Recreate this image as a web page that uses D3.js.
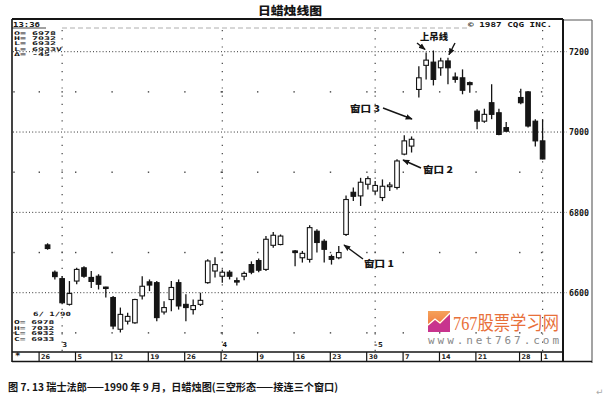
<!DOCTYPE html>
<html><head><meta charset="utf-8">
<script src="https://cdn.jsdelivr.net/npm/d3@7"></script>
<style>body{margin:0;background:#fff}svg{display:block}</style>
</head><body>
<svg id="c" width="610" height="406"></svg>
<script>
// ---- data (1990, Swiss franc, daily) ----
const dates = ["02-27","02-28","03-01","03-02",
 "03-05","03-06","03-07","03-08","03-09",
 "03-12","03-13","03-14","03-15","03-16",
 "03-19","03-20","03-21","03-22","03-23",
 "03-26","03-27","03-28","03-29","03-30",
 "04-02","04-03","04-04","04-05","04-06",
 "04-09","04-10","04-11","04-12",
 "04-16","04-17","04-18","04-19","04-20",
 "04-23","04-24","04-25","04-26","04-27",
 "04-30","05-01","05-02","05-03","05-04",
 "05-07","05-08","05-09","05-10","05-11",
 "05-14","05-15","05-16","05-17","05-18",
 "05-21","05-22","05-23","05-24","05-25",
 "05-29","05-30","05-31","06-01"];
const open  = [6719,6651,6635,6571, 6629,6662,6638,6641,6614, 6588,6509,6529,6525,6592, 6627,6625,6552,6583,6625, 6571,6558,6571,6625,6654, 6641,6651,6630,6641,6670, 6680,6658,6718,6720, 6704,6687,6683,6753,6728, 6690,6687,6745,6850,6841, 6870,6853,6837,6864,6862, 6945,6965,7106,7166,7174, 7160,7177,7137,7135,7123, 7052,7027,7073,7048,7011, 7086,7100,7027,6978];
const high  = [6723,6655,6641,6629, 6662,6666,6654,6646,6615, 6592,6563,6550,6585,6641, 6633,6629,6579,6629,6633, 6596,6583,6600,6683,6688, 6658,6656,6638,6653,6678, 6685,6741,6751,6745, 6706,6704,6768,6758,6733, 6695,6716,6842,6862,6886, 6890,6878,6882,6875,6932, 6992,6989,7164,7198,7203, 7185,7185,7148,7156,7126, 7057,7058,7119,7058,7025, 7108,7102,7032,7032];
const low   = [6707,6633,6571,6568, 6621,6637,6612,6608,6588, 6509,6501,6521,6523,6583, 6604,6529,6546,6554,6558, 6529,6546,6567,6622,6638, 6625,6633,6618,6631,6646, 6651,6654,6712,6718, 6666,6675,6675,6700,6675, 6670,6683,6741,6828,6816, 6857,6845,6828,6853,6857, 6942,6949,7086,7131,7116, 7140,7119,7123,7094,7098, 7007,7023,7032,6992,7001, 7069,7011,6964,6932];
const close = [6710,6640,6575,6598, 6658,6641,6628,6621,6611, 6517,6546,6541,6583,6616, 6619,6538,6563,6613,6567, 6563,6568,6581,6679,6670, 6651,6641,6627,6648,6651, 6656,6733,6743,6741, 6700,6698,6762,6725,6708, 6683,6700,6832,6840,6875, 6884,6867,6865,6868,6928, 6978,6982,7135,7179,7131, 7177,7160,7131,7104,7118, 7027,7044,7044,6994,7002, 7073,7015,6978,6933];

const yTicks = [6600, 6800, 7000, 7200];
const yMinor = [6500, 6700, 6900, 7100];
const weekLabels = ["26","5","12","19","26","2","9","16","23","30","7","14","21","28","1"];
const weekDates  = ["02-26","03-05","03-12","03-19","03-26","04-02","04-09","04-16","04-23","04-30","05-07","05-14","05-21","05-29","06-01"];
const monthLabels = ["3","4","-5"];
const monthDates  = ["03-01","04-02","05-01"];
const monthLines  = ["03-01","04-02","05-01","06-01"];
const legendTop = ["O= 6978","H= 7032","L= 6932","L= 6933V","\u0394= -45"];
const legendBottom = ["O= 6978","H= 7032","L= 6932","C= 6933"];

// ---- helpers ----
const start = new Date(1990,1,26);
function slot(s){
  const [m,d] = s.split("-").map(Number);
  const dt = new Date(1990, m-1, d);
  return d3.timeMonday.count(start, dt)*5 + (dt.getDay()-1);
}
const candles = dates.map((d,i)=>({s:slot(d),o:open[i],h:high[i],l:low[i],c:close[i]}));

const L = 12, R = 563, T = 19, B = 351, RR = 592;
const x = d3.scaleLinear().domain([0,69]).range([40.3,542.6]);
const y = d3.scaleLinear().domain([6600,7200]).range([292.7,51.7]);

const svg = d3.select("#c");
const ink = "#151515";
const mono = "'DejaVu Sans Mono', 'Liberation Mono', monospace";
const cjk = "'Noto Sans CJK SC', sans-serif";

const defs = svg.append("defs");
defs.append("marker").attr("id","ah").attr("viewBox","0 0 10 10").attr("refX",9).attr("refY",5)
  .attr("markerWidth",5).attr("markerHeight",5).attr("orient","auto-start-reverse")
  .append("path").attr("d","M0,1 L10,5 L0,9 Z").attr("fill",ink);

function sText(g, tx, ty, str, size, sy, opts={}){
  const t = g.append("text").attr("transform",`translate(${tx},${ty}) scale(1,${sy})`)
    .attr("font-family", opts.family||mono).attr("font-size",size)
    .attr("font-weight", opts.weight||"bold").attr("fill", opts.fill||ink)
    .attr("text-anchor", opts.anchor||"start").text(str);
  if (opts.len) t.attr("textLength",opts.len).attr("lengthAdjust","spacingAndGlyphs");
  return t;
}

// ---- title ----
svg.append("text").attr("x",290).attr("y",15).attr("text-anchor","middle")
  .attr("font-family",cjk).attr("font-weight","900").attr("font-size",11).attr("fill",ink)
  .attr("textLength",64).attr("lengthAdjust","spacingAndGlyphs").text("日蜡烛线图");

// ---- frame ----
const fr = svg.append("g");
fr.append("line").attr("x1",L).attr("x2",R).attr("y1",T).attr("y2",T).attr("stroke",ink).attr("stroke-width",2);
fr.append("line").attr("x1",R).attr("x2",RR).attr("y1",T+1).attr("y2",T+1).attr("stroke","#555").attr("stroke-width",1);
fr.append("line").attr("x1",L).attr("x2",L).attr("y1",T).attr("y2",362).attr("stroke",ink).attr("stroke-width",1.6);
fr.append("line").attr("x1",R).attr("x2",R).attr("y1",T).attr("y2",362).attr("stroke",ink).attr("stroke-width",2);
fr.append("line").attr("x1",RR).attr("x2",RR).attr("y1",T+1).attr("y2",363).attr("stroke","#666").attr("stroke-width",1.2);
fr.append("line").attr("x1",L).attr("x2",R).attr("y1",352).attr("y2",352).attr("stroke",ink).attr("stroke-width",1.4);
fr.append("line").attr("x1",L).attr("x2",RR).attr("y1",361.5).attr("y2",361.5).attr("stroke",ink).attr("stroke-width",1.4);
fr.append("line").attr("x1",L).attr("x2",46).attr("y1",28).attr("y2",28).attr("stroke",ink).attr("stroke-width",0.8);
fr.append("line").attr("x1",62).attr("x2",470).attr("y1",28).attr("y2",28).attr("stroke","#999").attr("stroke-width",0.8).attr("stroke-dasharray","5 3");

// ---- grid ----
const grid = svg.append("g");
grid.selectAll(".hg").data(yTicks).join("line")
  .attr("x1",L+1).attr("x2",R+4).attr("y1",d=>y(d)).attr("y2",d=>y(d))
  .attr("stroke","#333").attr("stroke-width",1).attr("stroke-dasharray","1 2.2");
const dotX = [L+2].concat(weekDates.map(d=>x(slot(d))-1)).concat(monthDates.map(d=>x(slot(d))));
const minorPts = [];
yMinor.forEach(v=>dotX.forEach(px=>minorPts.push([px,y(v)])));
grid.selectAll(".md").data(minorPts).join("rect")
  .attr("x",d=>d[0]-0.7).attr("y",d=>d[1]-0.7).attr("width",1.4).attr("height",1.4).attr("fill","#444");
grid.selectAll(".vg").data(monthLines).join("line")
  .attr("x1",d=>x(slot(d))).attr("x2",d=>x(slot(d))).attr("y1",30).attr("y2",B)
  .attr("stroke","#444").attr("stroke-width",1.2).attr("stroke-dasharray","1.2 7");

// ---- candles ----
const cg = svg.append("g");
const bw = 4.6;
cg.selectAll(".wk").data(candles).join("line")
  .attr("x1",d=>x(d.s)).attr("x2",d=>x(d.s)).attr("y1",d=>y(d.h)).attr("y2",d=>y(d.l))
  .attr("stroke",ink).attr("stroke-width",1.3);
cg.selectAll(".bd").data(candles).join("rect")
  .attr("x",d=>x(d.s)-bw/2).attr("width",bw)
  .attr("y",d=>Math.min(y(d.o),y(d.c)))
  .attr("height",d=>Math.max(1.4,Math.abs(y(d.o)-y(d.c))))
  .attr("fill",d=>d.c>=d.o?"#fff":ink).attr("stroke",ink).attr("stroke-width",1.1);

// ---- right axis ----
const ra = svg.append("g").attr("transform",`translate(${R+6},0)`)
  .call(d3.axisRight(y).tickValues(yTicks).tickFormat(d3.format("d")).tickSize(0).tickPadding(0));
ra.select(".domain").remove();
ra.selectAll("text").attr("font-family",mono).attr("font-size",8.5).attr("font-weight","bold")
  .attr("fill",ink).attr("dy","0.33em").attr("textLength",20).attr("lengthAdjust","spacingAndGlyphs");

// ---- date axis ----
const da = svg.append("g");
weekDates.forEach((d,i)=>{
  const px = x(slot(d))-1.2;
  da.append("line").attr("x1",px).attr("x2",px).attr("y1",352).attr("y2",361).attr("stroke",ink).attr("stroke-width",1.2);
  sText(da, px+2, 358.5, weekLabels[i], 7.5, 0.85);
});
sText(da, 15, 359, "*", 9, 1);

// month markers
monthDates.forEach((d,i)=>{
  sText(svg, x(slot(d))+(i==2?-2:0), 347, monthLabels[i], 8, 0.85);
});

// ---- header texts ----
sText(svg, 13, 26.5, "13:36", 9, 0.8);
legendTop.forEach((t,i)=> sText(svg, 14, 34.5 + i*5.4, t, 10, 0.5));
sText(svg, 468, 26.5, "\u00A9  1987 CQG INC.", 9.2, 0.75, {len:84});
sText(svg, 33, 315.5, "6/ 1/90", 9, 0.65);
legendBottom.forEach((t,i)=> sText(svg, 14, 324 + i*5.6, t, 9.6, 0.55));

// ---- annotations ----
const an = svg.append("g");
function cjkText(tx, ty, str, len){
  an.append("text").attr("x",tx).attr("y",ty).attr("font-family",cjk).attr("font-weight","900")
    .attr("font-size",9).attr("fill",ink).attr("textLength",len).attr("lengthAdjust","spacingAndGlyphs").text(str);
}
function arrow(x1,y1,x2,y2){
  an.append("line").attr("x1",x1).attr("y1",y1).attr("x2",x2).attr("y2",y2)
    .attr("stroke",ink).attr("stroke-width",1.4).attr("marker-end","url(#ah)");
}
cjkText(420, 39.5, "上吊线", 28);
arrow(417, 43, x(slot("05-10"))-1, y(7198)-3);
arrow(455, 43, x(slot("05-15"))+1, y(7185)-3);
cjkText(350, 112, "窗口 3", 30);
arrow(383, 108, 412, 119);
cjkText(423, 173, "窗口 2", 30);
arrow(421, 168, 403, 160);
cjkText(364, 267, "窗口 1", 30);
arrow(363, 259, 344, 245);

// ---- watermark ----
const wm = svg.append("g");
const lg = defs.append("linearGradient").attr("id","lg").attr("x1",0).attr("y1",0).attr("x2",0).attr("y2",1);
lg.append("stop").attr("offset","0%").attr("stop-color","#f5a25a");
lg.append("stop").attr("offset","100%").attr("stop-color","#ee6a34");
wm.append("rect").attr("x",428).attr("y",311).attr("width",22).attr("height",21).attr("fill","url(#lg)");
wm.append("path").attr("d","M428,332 L428,326 L435,320 L440,324 L450,314 L450,332 Z").attr("fill","#c8348e");
wm.append("path").attr("d","M428,325 L435,319 L440,323 L450,313").attr("fill","none").attr("stroke","#fff").attr("stroke-width",1.3);
wm.append("text").attr("x",453).attr("y",329.5).attr("font-family","'Liberation Serif', 'Noto Sans CJK SC', serif")
  .attr("font-size",19).attr("fill","#e8703a").attr("textLength",106).attr("lengthAdjust","spacingAndGlyphs").text("767股票学习网");
wm.append("text").attr("x",428).attr("y",344).attr("font-family",mono).attr("font-size",11)
  .attr("fill","#8a8a8a").attr("textLength",131).attr("lengthAdjust","spacing").text("www.net767.com");

// ---- caption ----
svg.append("text").attr("x",8).attr("y",391).attr("font-family",cjk).attr("font-weight","700")
  .attr("font-size",10.5).attr("fill",ink).attr("textLength",330).attr("lengthAdjust","spacingAndGlyphs")
  .text("图 7. 13  瑞士法郎——1990 年 9 月，日蜡烛图(三空形态——接连三个窗口)");
svg.append("text").attr("x",596).attr("y",395).attr("font-family","'DejaVu Sans', sans-serif")
  .attr("font-size",9).attr("fill","#aaa").text("\u21B5");
</script>
</body></html>
